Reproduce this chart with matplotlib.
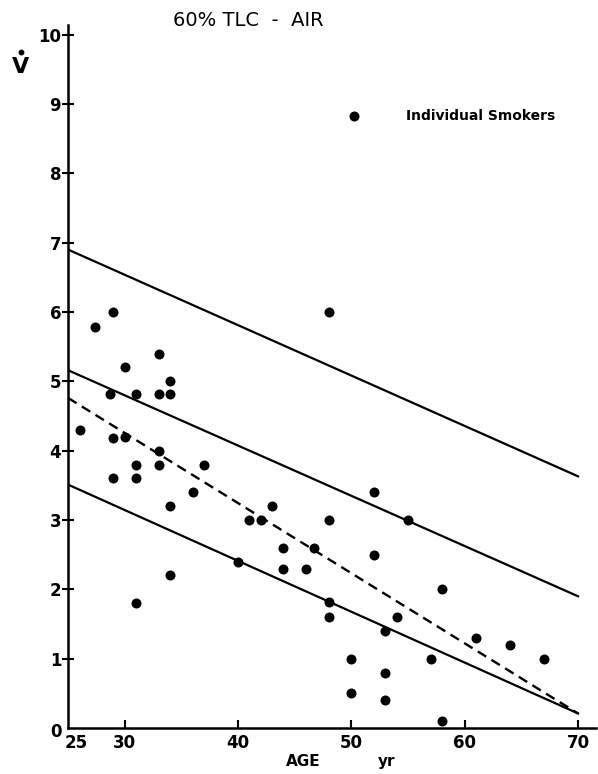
import matplotlib.pyplot as plt
from matplotlib.lines import Line2D

# individual smokers: age (yr) and V-dot at 60% TLC on air
ages = [26, 27.4, 29, 30, 28.7, 31, 33, 33, 34, 34, 29, 30, 33, 31, 33, 37, 29, 31,
        36, 34, 41, 42, 43, 44, 44, 40, 34, 31, 48, 52, 48, 55, 46.7, 52, 46,
        48, 48, 58, 54, 53, 50, 53, 50, 53, 58, 57, 61, 64, 67]
vdot = [4.3, 5.78, 6.0, 5.2, 4.82, 4.82, 5.4, 4.82, 4.82, 5.0, 4.18, 4.2, 4.0, 3.8, 3.8, 3.8, 3.6, 3.6,
        3.4, 3.2, 3.0, 3.0, 3.2, 2.6, 2.3, 2.4, 2.2, 1.8, 6.0, 3.4, 3.0, 3.0, 2.6, 2.5, 2.3,
        1.82, 1.6, 2.0, 1.6, 1.4, 1.0, 0.8, 0.5, 0.4, 0.1, 1.0, 1.3, 1.2, 1.0]

# regression / normal-range lines, values at age 25 and 70
line_ages = [25, 70]
upper_limit = [6.90, 3.63]
normal_mean = [5.16, 1.90]
lower_limit = [3.51, 0.21]
smokers_fit = [4.76, 0.21]

fig = plt.figure(figsize=(5.98, 7.74), dpi=100)
ax = fig.add_axes([0.114, 0.0594, 0.883, 0.9083])

ax.plot(line_ages, upper_limit, color='black', lw=1.6)
ax.plot(line_ages, normal_mean, color='black', lw=1.6)
ax.plot(line_ages, lower_limit, color='black', lw=1.6)
ax.plot(line_ages, smokers_fit, color='black', lw=1.7, dashes=(4.2, 2.6))
ax.scatter(ages, vdot, s=52, color='black', zorder=3, linewidths=0)

# legend
ax.scatter([50.2], [8.83], s=52, color='black', linewidths=0)
ax.text(54.8, 8.83, 'Individual Smokers', fontsize=10, fontweight='bold',
        va='center', ha='left')

ax.set_xlim(25, 71.6)
ax.set_ylim(0, 10.14)
for s in ['top', 'right']:
    ax.spines[s].set_visible(False)
for s in ['left', 'bottom']:
    ax.spines[s].set_linewidth(1.8)

ax.set_xticks([30, 40, 50, 60, 70])
ax.set_yticks(range(1, 11))
ax.tick_params(axis='x', direction='in', length=6, width=1.5, labelsize=12, pad=4)
ax.tick_params(axis='y', direction='inout', length=8, width=1.5, labelsize=12, pad=1)
for lab in ax.get_xticklabels() + ax.get_yticklabels():
    lab.set_fontweight('bold')

# origin labels
ax.text(-0.012, -0.006, '0', transform=ax.transAxes, fontsize=12, fontweight='bold',
        ha='right', va='center')
ax.text(-0.006, -0.008, '25', transform=ax.transAxes, fontsize=12, fontweight='bold',
        ha='left', va='top')

fig.text(0.507, 0.016, 'AGE', fontsize=11, fontweight='bold', ha='center', va='center')
fig.text(0.647, 0.016, 'yr', fontsize=11, fontweight='bold', ha='center', va='center')
# V with a dot above it
fig.text(0.035, 0.913, 'V', fontsize=16, fontweight='semibold', ha='center', va='center')
fig.add_artist(Line2D([0.035], [0.933], marker='o', markersize=3.2, color='black',
                      transform=fig.transFigure))
fig.text(0.415, 0.974, '60% TLC  -  AIR', fontsize=14, ha='center', va='center')

fig.savefig('out.png', dpi=100)
